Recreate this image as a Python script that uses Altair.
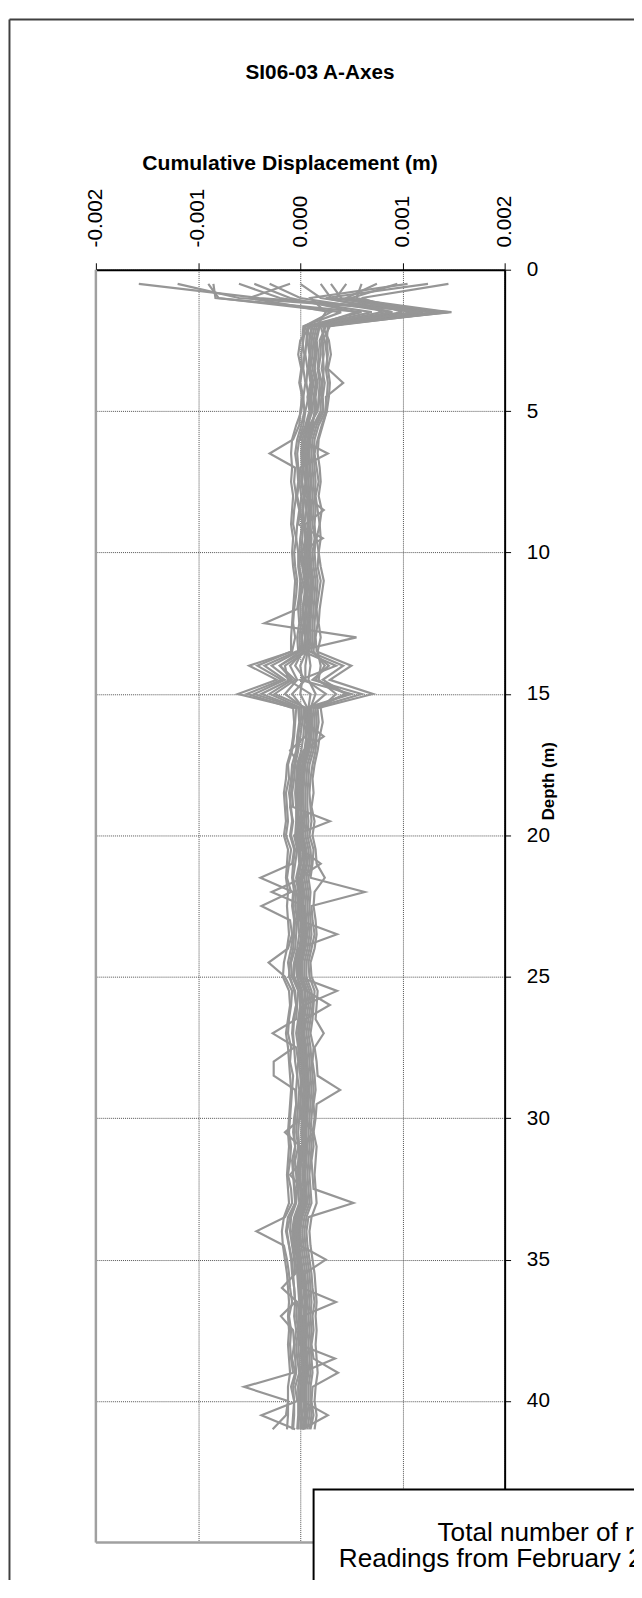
import altair as alt
import pandas as pd

# Depth of each reading (m)
DEPTHS = [0.5, 1.0, 1.5, 2.0, 2.5, 3.0, 3.5, 4.0, 4.5, 5.0,
          5.5, 6.0, 6.5, 7.0, 7.5, 8.0, 8.5, 9.0, 9.5, 10.0,
          10.5, 11.0, 11.5, 12.0, 12.5, 13.0, 13.5, 14.0, 14.5, 15.0,
          15.5, 16.0, 16.5, 17.0, 17.5, 18.0, 18.5, 19.0, 19.5, 20.0,
          20.5, 21.0, 21.5, 22.0, 22.5, 23.0, 23.5, 24.0, 24.5, 25.0,
          25.5, 26.0, 26.5, 27.0, 27.5, 28.0, 28.5, 29.0, 29.5, 30.0,
          30.5, 31.0, 31.5, 32.0, 32.5, 33.0, 33.5, 34.0, 34.5, 35.0,
          35.5, 36.0, 36.5, 37.0, 37.5, 38.0, 38.5, 39.0, 39.5, 40.0,
          40.5, 41.0]

# Cumulative displacement of each reading, in units of 1e-5 m (0.01 mm)
R01 = [-158, -40, 148, 10, 0, -2, 1, -1, 2, 0,
       -1, -7, -30, -5, -6, -4, -6, -7, -4, -6,
       -5, -3, -4, -6, -7, -5, -8, -50, -23, -61,
       -4, -5, -6, -8, -12, -11, -14, -13, -12, -14,
       -9, -11, -13, -9, -38, -10, -8, -12, -31, -15,
       -8, -9, -11, -12, -9, -10, -7, -8, -9, -10,
       -11, -9, -10, -12, -9, -8, -15, -43, -16, -13,
       -11, -10, -8, -11, -9, -10, -9, -7, -55, -12,
       -14, -27]
R02 = [145, 60, 100, 20, 24, 26, 27, 42, 25, 26,
       21, 17, 14, 16, 18, 15, 17, 19, 16, 18,
       17, 20, 18, 16, 17, 15, 16, 50, 29, 71,
       17, 18, 16, 15, 12, 10, 9, 10, 11, 9,
       13, 12, 10, 63, 11, 12, 14, 11, 8, 9,
       14, 13, 12, 10, 13, 12, 14, 15, 13, 14,
       12, 13, 11, 12, 13, 52, 8, 6, 7, 9,
       11, 12, 14, 12, 13, 11, 13, 37, 12, 11,
       13, 10]
R03 = [-90, -80, 40, 3, 2, 4, 3, 5, 3, 4,
       1, -3, -5, -3, -2, -4, -1, -3, -4, -2,
       -2, 0, -1, -3, -35, 55, -4, -35, -15, -45,
       -2, -1, -3, -4, -8, -9, -11, -9, -8, -10,
       -6, -8, -39, -7, -8, -6, -7, -9, -12, -10,
       -6, -4, -7, -8, -6, -26, -26, -5, -4, -6,
       -7, -5, -8, -7, -6, -5, -12, -14, -11, -9,
       -8, -6, -5, -19, -7, -6, -8, -5, -9, -6,
       -7, -8]
R04 = [-60, -20, 70, 8, 7, 9, 8, 10, 7, 9,
       5, 0, 27, 0, -1, 1, 0, 2, 0, -1,
       2, 4, 1, 0, 1, -1, 0, -20, -8, -30,
       1, 2, 0, -2, -5, -6, -8, -7, 29, -6,
       -3, -5, -7, -4, -5, -3, -4, -5, -9, -8,
       -2, -3, -4, -27, -4, -2, -3, -1, -2, -3,
       -4, -2, -5, -4, -3, -4, -9, -10, -8, -6,
       -5, -18, -3, -4, -2, -4, -3, -1, -5, -3,
       -38, -5]
R05 = [-30, 0, 90, 14, 11, 12, 10, 13, 11, 12,
       7, 4, 2, 3, 2, 4, 3, 4, 5, 2,
       4, 6, 5, 3, 4, 2, 3, -10, -3, -15,
       4, 5, 23, 3, -2, -3, -4, -3, -2, -4,
       -1, 0, -3, -1, -2, -1, 36, -2, -5, -6,
       1, 0, -1, -2, -1, 1, 2, 1, 0, 1,
       -15, 0, -1, -2, 0, 1, -5, -7, -6, -3,
       -2, -1, 0, -1, 1, -1, 34, 1, -2, 0,
       -1, -2]
R06 = [0, 20, 110, 18, 15, 16, 14, 17, 15, 16,
       10, 7, 5, 6, 5, 7, 6, 8, 7, 6,
       7, 8, 9, 6, 7, 5, 6, 0, 2, 0,
       7, 8, 6, 5, 2, 0, -1, 0, 1, -1,
       2, 3, 0, 2, 1, 2, 3, 1, -2, -1,
       36, 4, 2, 1, 2, 3, 4, 5, 4, 3,
       2, 3, 2, -10, 2, 3, -2, -4, -3, -1,
       1, 2, 35, 2, 3, 2, 3, 4, 2, 2,
       27, 2]
R07 = [30, 40, 130, 25, 19, 20, 18, 21, 19, 20,
       13, 9, 8, 9, 10, 9, 10, 8, 10, 9,
       10, 12, 11, 10, 9, 10, 8, 10, 8, 15,
       10, 11, 10, 8, 4, 3, 2, 3, 4, 2,
       5, 6, 3, -28, 4, 5, 6, 4, 1, 2,
       6, 29, 5, 3, 5, 6, 7, 8, 7, 6,
       5, 6, 5, 4, 5, 6, 1, -1, 0, 25,
       4, 5, 6, 5, 6, 5, 6, 7, 5, 5,
       6, 4]
R08 = [60, 55, 120, 22, 28, 30, 27, 29, 28, 26,
       22, 18, 17, 19, 20, 18, 21, 19, 20, 18,
       20, 23, 21, 19, 18, 20, 17, 20, 18, 35,
       20, 22, 19, 17, 14, 12, 13, 11, 14, 12,
       15, 16, 24, 14, 13, 15, 16, 14, 10, 11,
       17, 16, 15, 23, 14, 16, 17, 39, 16, 15,
       13, 16, 15, 14, 15, 16, 11, 9, 10, 12,
       14, 15, 16, 15, 16, 15, 16, 17, 15, 14,
       16, 14]
R09 = [95, 50, 80, 12, 9, 10, 8, 11, 9, 10,
       8, 4, 3, 3, 5, 4, 6, 4, 5, 4,
       5, 7, 6, 5, 4, 5, 3, 35, 0, 50,
       5, 6, 5, -10, -1, -2, -3, -3, -2, -3,
       0, 1, -2, 0, -1, 0, 1, -1, -4, -3,
       1, 2, 0, -2, 0, 1, 2, 3, 2, 1,
       13, 1, 0, -1, 0, 1, -4, -6, -5, -3,
       -1, 0, 1, 0, 1, 0, 1, 2, 0, 0,
       1, 0]
R10 = [-85, -83, 60, 5, 3, 1, 2, 0, 3, 1,
       -4, -8, -9, -8, -9, -7, -8, -9, -7, -8,
       -7, -5, -6, -7, -8, -9, -9, -42, -18, -52,
       -7, -6, -7, -9, -13, -14, -16, -15, -14, -16,
       -12, -13, -14, -12, -13, -12, -11, -13, -16, -17,
       -11, -10, -12, -14, -12, -11, -10, -9, -10, -11,
       -12, -11, -12, -13, -12, -11, -16, -18, -17, -15,
       -13, -12, -11, -12, -11, -12, -11, -10, -12, -12,
       -12, -13]
R11 = [20, 30, 140, 29, 22, 23, 21, 24, 22, 23,
       16, 12, 11, 12, 13, 12, 13, 12, 14, 12,
       13, 15, 14, 13, 12, 12, 11, 28, 12, 60,
       13, 14, 13, 11, 7, 6, 5, 5, 6, 5,
       8, 9, 6, 8, 7, 8, 9, 7, 4, 4,
       9, 10, 8, 6, 8, 9, 10, 11, 10, 9,
       8, 9, 8, 7, 8, 9, 4, 2, 3, 5,
       7, 8, 9, 8, 9, 8, 9, 10, 8, 8,
       9, 7]
R12 = [105, 10, 25, 16, 13, 14, 12, 15, 13, 14,
       12, 8, 7, 7, 8, 8, 9, 8, 9, 8,
       9, 11, 10, 9, 8, 8, 7, 5, 5, 25,
       9, 10, 9, 7, 3, 2, 1, 1, 2, 1,
       4, 4, 2, 4, 3, 4, 5, 3, 0, 0,
       5, 6, 4, 2, 4, 5, 6, 7, 6, 5,
       4, 5, 4, 3, 4, 5, 0, -2, -1, 1,
       3, 4, 5, 4, 5, 4, 5, 6, 4, 4,
       5, 3]
R13 = [-120, -60, 135, 7, 6, 5, 7, 6, 8, 5,
       3, -1, -3, -2, -1, -3, 0, -2, 22, -1,
       -1, 2, 0, -2, -1, -3, -2, -28, -10, -38,
       -1, 0, -2, -3, -6, -8, -9, -10, -7, -9,
       -5, -7, -8, -6, -7, -5, -6, -7, -10, -11,
       -5, -4, -6, -7, -6, -5, -3, -4, -4, -5,
       -6, -5, -6, -7, -5, -5, -10, -13, -11, -8,
       -7, -6, -5, -6, -4, -6, -5, -4, -7, -6,
       -6, -7]
R14 = [-45, -10, 55, 11, 9, 10, 9, 12, 10, 11,
       6, 2, 1, 2, 1, 3, 2, 3, 2, 1,
       3, 5, 4, 2, 3, 1, 2, -5, 5, -8,
       3, 4, 3, 1, -3, -4, -5, -4, -4, -5,
       -2, -1, -4, -2, -3, -2, -1, -3, -6, -7,
       -1, 0, -2, -4, -2, -1, 0, 1, 0, -1,
       -2, -1, -2, -3, -2, -1, -6, -8, -7, -5,
       -3, -2, -1, -2, -1, -2, -1, 0, -2, -2,
       -2, -3]
R15 = [45, 35, 115, 19, 16, 18, 17, 19, 18, 17,
       9, 5, 4, 5, 6, 5, 23, 5, 6, 5,
       6, 8, 7, 6, 5, 5, 4, -20, -5, -25,
       6, 7, 6, 4, 0, -1, -2, -2, -1, -2,
       1, 20, -1, 1, 0, 1, 2, 0, -3, -3,
       2, 3, 1, -1, 1, 2, 3, 4, 3, 2,
       1, 2, 1, 0, 1, 2, -3, -5, -4, -2,
       0, 1, 2, 1, 2, 1, 2, 3, 1, 1,
       2, 1]
R16 = [75, 45, 145, 24, 21, 22, 23, 22, 21, 22,
       14, 10, 9, 10, 11, 10, 11, 10, 11, 10,
       11, 13, 12, 11, 10, 10, 9, 42, 22, 45,
       11, 12, 11, 9, 5, 4, 3, 3, 4, 3,
       6, 7, 4, 6, 5, 6, 7, 5, 2, 2,
       7, 8, 6, 4, 6, 7, 8, 9, 8, 7,
       6, 7, 6, 5, 6, 7, 2, 0, 1, 3,
       5, 6, 7, 6, 7, 6, 7, 8, 6, 6,
       7, 5]
R17 = [125, 25, 90, 27, 26, 27, 25, 27, 26, 25,
       18, 14, 13, 14, 15, 14, 15, 14, 15, 14,
       15, 17, 16, 15, 14, 14, 13, 24, 15, 45,
       15, 16, 15, 13, 9, 8, 7, 7, 8, 7,
       10, 11, 8, 10, 9, 10, 11, 9, 6, 6,
       11, 12, 10, 8, 10, 11, 12, 13, 12, 11,
       10, 11, 10, 9, 10, 11, 6, 4, 5, 7,
       9, 10, 11, 10, 11, 10, 11, 12, 10, 10,
       11, 9]
R18 = [-10, -50, 30, 4, 13, 15, 14, 16, 14, 15,
       11, 7, 6, 7, 8, 7, 8, 7, 8, 7,
       8, 10, 9, 8, 7, 7, 6, -15, -12, 10,
       8, 9, 8, 6, 2, 1, 0, 0, 1, 0,
       3, 4, 1, 3, 2, 3, 4, 2, -1, -1,
       4, 5, 3, 1, 3, 4, 5, 6, 5, 4,
       3, 4, 3, 2, 3, 4, -1, -3, -2, 0,
       2, 3, 4, 3, 4, 3, 4, 5, 3, 3,
       4, 2]

READINGS = {"R01": R01, "R02": R02, "R03": R03, "R04": R04, "R05": R05, "R06": R06,
            "R07": R07, "R08": R08, "R09": R09, "R10": R10, "R11": R11, "R12": R12,
            "R13": R13, "R14": R14, "R15": R15, "R16": R16, "R17": R17, "R18": R18}

X_TICKS = [-0.002, -0.001, 0.0, 0.001, 0.002]
Y_TICKS = [0, 5, 10, 15, 20, 25, 30, 35, 40]

TITLE = "SI06-03 A-Axes"
X_TITLE = "Cumulative Displacement (m)"
Y_TITLE = "Depth (m)"
NOTE_1 = "Total number of readings"
NOTE_2 = "Readings from February 2006"

rows = []
for name, vals in READINGS.items():
    for d, v in zip(DEPTHS, vals):
        rows.append({"reading": name, "depth": d, "disp": v * 1e-5})
df = pd.DataFrame(rows)

W, H = 414, 1289
FONT = "Liberation Sans"
one = pd.DataFrame({"k": [0]})

lines = alt.Chart(df).mark_line(color="#969696", strokeWidth=2.2, strokeJoin="miter").encode(
    x=alt.X("disp:Q",
            scale=alt.Scale(domain=[-0.002, 0.002], nice=False, zero=False),
            axis=alt.Axis(orient="top", values=X_TICKS, title=None,
                          labelExpr="(datum.value < -0.0000001 ? '-' : '') + format(abs(datum.value), '.3f')",
                          labelAngle=270, labelAlign="left", labelBaseline="middle",
                          labelPadding=16, tickSize=7)),
    y=alt.Y("depth:Q",
            scale=alt.Scale(domain=[0, 45], reverse=True, nice=False, zero=False),
            axis=alt.Axis(orient="right", values=Y_TICKS, title=None,
                          labelPadding=16, tickSize=6)),
    detail="reading:N",
    order="depth:Q",
)

left_border = alt.Chart(one).mark_rule(color="#a0a0a0", strokeWidth=2.5).encode(
    x=alt.value(0), y=alt.value(0), y2=alt.value(H))
bottom_border = alt.Chart(one).mark_rule(color="#a0a0a0", strokeWidth=2.5).encode(
    x=alt.value(0), x2=alt.value(W), y=alt.value(H))

frame_left = alt.Chart(one).mark_rule(color="#404040", strokeWidth=2).encode(
    x=alt.value(-87.5), y=alt.value(-253.5), y2=alt.value(1400))
frame_top = alt.Chart(one).mark_rule(color="#404040", strokeWidth=2).encode(
    x=alt.value(-87.5), x2=alt.value(700), y=alt.value(-253.5))

title = alt.Chart(one).mark_text(text=TITLE, font=FONT, fontSize=21, fontWeight="bold",
                                 align="center", baseline="alphabetic", color="black").encode(
    x=alt.value(227), y=alt.value(-193))
x_title = alt.Chart(one).mark_text(text=X_TITLE, font=FONT, fontSize=21.4, fontWeight="bold",
                                   align="left", baseline="alphabetic", color="black").encode(
    x=alt.value(47), y=alt.value(-101))
y_title = alt.Chart(one).mark_text(text=Y_TITLE, font=FONT, fontSize=17, fontWeight="bold",
                                   align="center", baseline="middle", angle=270, color="black").encode(
    x=alt.value(459), y=alt.value(518))

note_box = alt.Chart(one).mark_rect(fill="white", stroke="black", strokeWidth=2).encode(
    x=alt.value(220.5), x2=alt.value(700), y=alt.value(1235.5), y2=alt.value(1500))
note_1 = alt.Chart(one).mark_text(text=NOTE_1, font=FONT, fontSize=26.5, align="left",
                                  baseline="alphabetic", color="black").encode(
    x=alt.value(346), y=alt.value(1288))
note_2 = alt.Chart(one).mark_text(text=NOTE_2, font=FONT, fontSize=26.5, align="left",
                                  baseline="alphabetic", color="black").encode(
    x=alt.value(246), y=alt.value(1314))

chart = alt.layer(
    left_border, bottom_border, lines, note_box, note_1, note_2,
    title, x_title, y_title, frame_left, frame_top,
).properties(
    width=W, height=H,
    padding={"left": 89, "top": 255, "right": 131, "bottom": 28},
    autosize=alt.AutoSizeParams(type="none"),
).configure_view(
    strokeWidth=0
).configure_axis(
    labelFont=FONT, labelFontSize=21, labelColor="black",
    domainColor="black", domainWidth=2,
    tickColor="black", tickWidth=1,
    grid=True, gridColor="#505050", gridDash=[1, 1], gridWidth=1,
    zindex=0,
)

chart.save("out.html", embed_options={"renderer": "svg", "actions": False})
